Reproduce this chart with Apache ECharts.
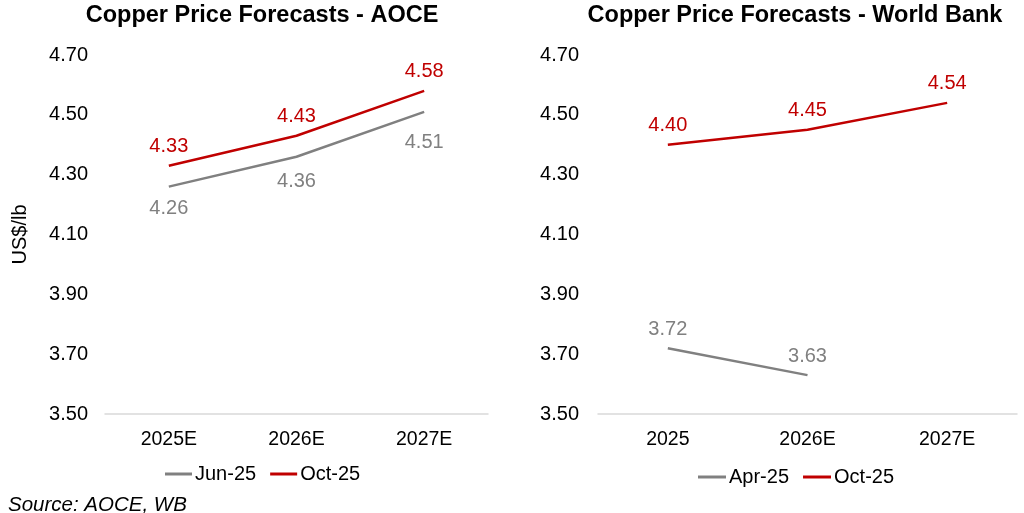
<!DOCTYPE html>
<html>
<head>
<meta charset="utf-8">
<script src="https://cdn.jsdelivr.net/npm/echarts@6/dist/echarts.min.js"></script>
<style>
  html, body { margin: 0; padding: 0; background: #fff; }
  #main { width: 1024px; height: 513px; }
</style>
</head>
<body>
<div id="main"></div>
<script>
// left panel - AOCE
let aoceYears = ['2025E', '2026E', '2027E'];
let aoceJun = [4.26, 4.36, 4.51];
let aoceOct = [4.33, 4.43, 4.58];

// right panel - World Bank
let wbYears = ['2025', '2026E', '2027E'];
let wbApr = [3.72, 3.63, null];
let wbOct = [4.40, 4.45, 4.54];

let grey = '#808080';
let red = '#C00000';
let font = 'Liberation Sans, Arial, sans-serif';

function yAx(idx, name) {
    return {
        type: 'value', gridIndex: idx, min: 3.5, max: 4.7, interval: 0.2,
        name: name, nameLocation: 'middle', nameGap: 75, nameRotate: 90,
        nameTextStyle: {fontSize: 20, color: '#000', fontFamily: font},
        axisLine: {show: false}, axisTick: {show: false}, splitLine: {show: false},
        axisLabel: {
            fontSize: 20, color: '#000', fontFamily: font, margin: idx == 0 ? 17 : 19,
            formatter: function (v) { return v.toFixed(2); }
        }
    };
}

function xAx(idx, data) {
    return {
        type: 'category', gridIndex: idx, data: data,
        axisLine: {lineStyle: {color: '#d9d9d9', width: 1.5}},
        axisTick: {show: false},
        axisLabel: {fontSize: 19.5, color: '#000', fontFamily: font, margin: 16}
    };
}

// gaps: optional per-point label distance (excel labels were nudged by hand)
function line(name, idx, data, color, pos, dist, gaps) {
    let items = data.map(function (v, i) {
        if (gaps == null || v == null) return v;
        return {value: v, label: {distance: gaps[i]}};
    });
    return {
        name: name, type: 'line', xAxisIndex: idx, yAxisIndex: idx,
        data: items, symbol: 'circle', symbolSize: 0.1, showSymbol: true,
        lineStyle: {color: color, width: 2.5}, itemStyle: {color: color},
        label: {
            show: true, position: pos, distance: dist, color: color, fontSize: 20, fontFamily: font,
            formatter: function (p) { return p.value.toFixed(2); }
        }
    };
}

let myChart = echarts.init(document.getElementById('main'));
let option = {
    animation: false,
    title: [
        {text: 'Copper Price Forecasts - AOCE', left: 257, top: -1, textAlign: 'center',
            textStyle: {fontSize: 23.5, fontWeight: 'bold', color: '#000', fontFamily: font}},
        {text: 'Copper Price Forecasts - World Bank', left: 790, top: -1, textAlign: 'center',
            textStyle: {fontSize: 23.5, fontWeight: 'bold', color: '#000', fontFamily: font}},
        {text: 'Source: AOCE, WB', left: 3, top: 490,
            textStyle: {fontSize: 20.5, fontStyle: 'italic', fontWeight: 'normal', color: '#000', fontFamily: font}}
    ],
    legend: [
        {data: ['Jun-25', 'Oct-25'], left: 160, top: 459, icon: 'rect', itemWidth: 27, itemHeight: 3,
            itemGap: 14, textStyle: {fontSize: 20, color: '#000', fontFamily: font, padding: [0, 0, 0, -2]}},
        {data: ['Apr-25', 'Oct-25 '], left: 693, top: 462, icon: 'rect', itemWidth: 28, itemHeight: 3,
            itemGap: 14, textStyle: {fontSize: 20, color: '#000', fontFamily: font, padding: [0, 0, 0, -2]}}
    ],
    grid: [
        {left: 105, right: 536, top: 55, bottom: 99},
        {left: 598, right: 7, top: 55, bottom: 99}
    ],
    xAxis: [xAx(0, aoceYears), xAx(1, wbYears)],
    yAxis: [yAx(0, 'US$/lb'), yAx(1, '')],
    series: [
        line('Jun-25', 0, aoceJun, grey, 'bottom', 11, [12, 15, 21]),
        line('Oct-25', 0, aoceOct, red, 'top', 9),
        line('Apr-25', 1, wbApr, grey, 'top', 9),
        line('Oct-25 ', 1, wbOct, red, 'top', 9)
    ]
};
myChart.setOption(option);
</script>
</body>
</html>
